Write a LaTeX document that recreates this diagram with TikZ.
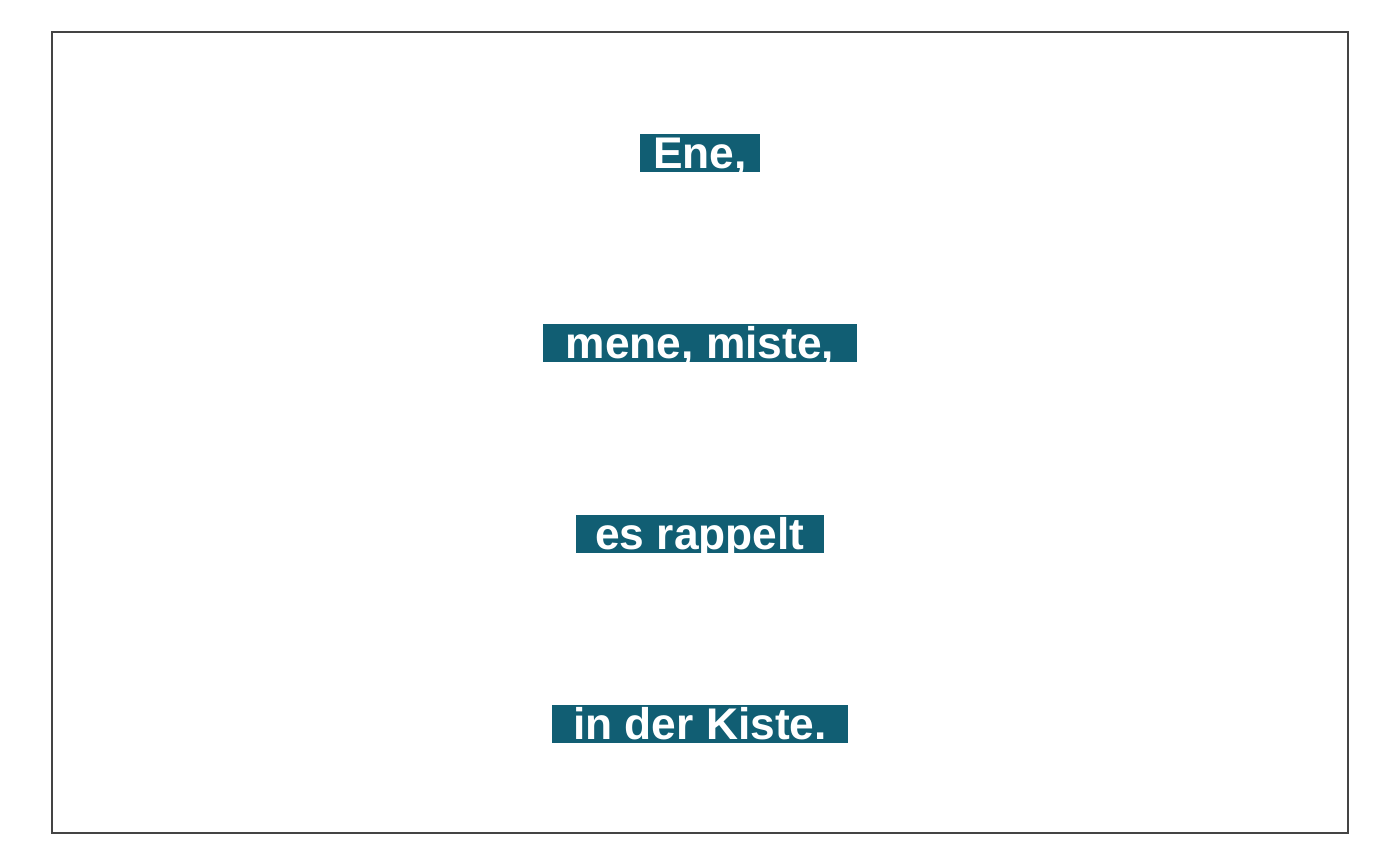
\documentclass[tikz,border=0pt]{standalone}
\usepackage{fontspec}
\setmainfont{Liberation Sans}
\definecolor{teal1}{HTML}{115E73}
\definecolor{frame1}{HTML}{444444}
\tikzset{
  lbl/.style={fill=teal1, text=white, inner sep=0pt, text height=0.343cm, text depth=0.035cm,
    anchor=base, font=\fontsize{12.6pt}{14pt}\selectfont\bfseries},
}
\begin{document}
\begin{tikzpicture}[x=0.01cm,y=-0.01cm]
\useasboundingbox (0,0) rectangle (1400,866);
\draw[frame1, line width=0.6pt] (52,32) rectangle (1348,833);
\node[lbl, minimum width=1.20cm] (l1) at (700,168.5) {Ene,};
\node[lbl, minimum width=3.14cm] (l2) at (700,358.5) {mene, miste,};
\node[lbl, minimum width=2.48cm] (l3) at (700,549) {es rappelt};
\node[lbl, minimum width=2.96cm] (l4) at (700,739.3) {in der Kiste.};
\end{tikzpicture}
\end{document}
